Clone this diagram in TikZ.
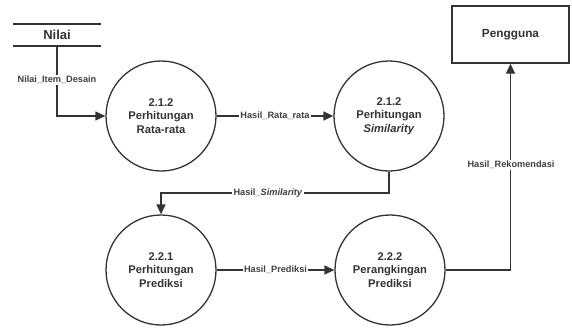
\documentclass[tikz,border=0pt]{standalone}
\usepackage{fontspec}
\setmainfont{Liberation Sans}
\usetikzlibrary{arrows.meta}
\begin{document}
\begin{tikzpicture}[x=1pt,y=-1pt,
  line width=1.3pt, draw=black!80,
  proc/.style={circle, draw, minimum size=110pt, inner sep=0pt, align=center,
    font=\fontsize{11.2}{13.5}\selectfont\bfseries, text=black!80},
  flowlabel/.style={fill=white, inner sep=1.5pt, font=\fontsize{9.2}{11}\selectfont\bfseries, text=black!75},
  flow/.style={-{Triangle[length=10pt,width=9pt]}},
  entity/.style={draw, minimum width=117pt, minimum height=57pt, inner sep=0pt,
    font=\fontsize{11.8}{14}\selectfont\bfseries, text=black!80}]
\useasboundingbox (0,0) rectangle (572,327);

% data store
\coordinate (storeTL) at (13,24);
\coordinate (storeTR) at (101,24);
\coordinate (storeBL) at (13,46);
\coordinate (storeBR) at (101,46);
\draw (storeTL) -- (storeTR);
\draw (storeBL) -- (storeBR);
\node[font=\fontsize{13}{15}\selectfont\bfseries, text=black!80] (nilai) at (57,35) {Nilai};
\coordinate (storeOut) at (57,46);

% processes
\node[proc] (p1) at (161,116) {2.1.2\\Perhitungan\\Rata-rata};
\node[proc] (p2) at (389,116) {2.1.2\\Perhitungan\\\textit{Similarity}};
\node[proc] (p3) at (161,270) {2.2.1\\Perhitungan\\Prediksi};
\node[proc] (p4) at (390,270) {2.2.2\\Perangkingan\\Prediksi};

% external entity
\node[entity] (user) at (510.5,34.5) {Pengguna};

% flows
\draw[flow] (storeOut) |- (p1.west);
\node[flowlabel] at (57,80) {Nilai\_Item\_Desain};

\draw[flow] (p1.east) -- node[flowlabel] {Hasil\_Rata\_rata} (p2.west);

\draw[flow] (p2.south) |- (161,193) -- (p3.north);
\node[flowlabel] at (268,193) {Hasil\_\textit{Similarity}};

\draw[flow] (p3.east) -- node[flowlabel] {Hasil\_Prediksi} (p4.west);

\draw[flow] (p4.east) -| (user.south);
\node[flowlabel] at (511,165) {Hasil\_Rekomendasi};
\end{tikzpicture}
\end{document}
